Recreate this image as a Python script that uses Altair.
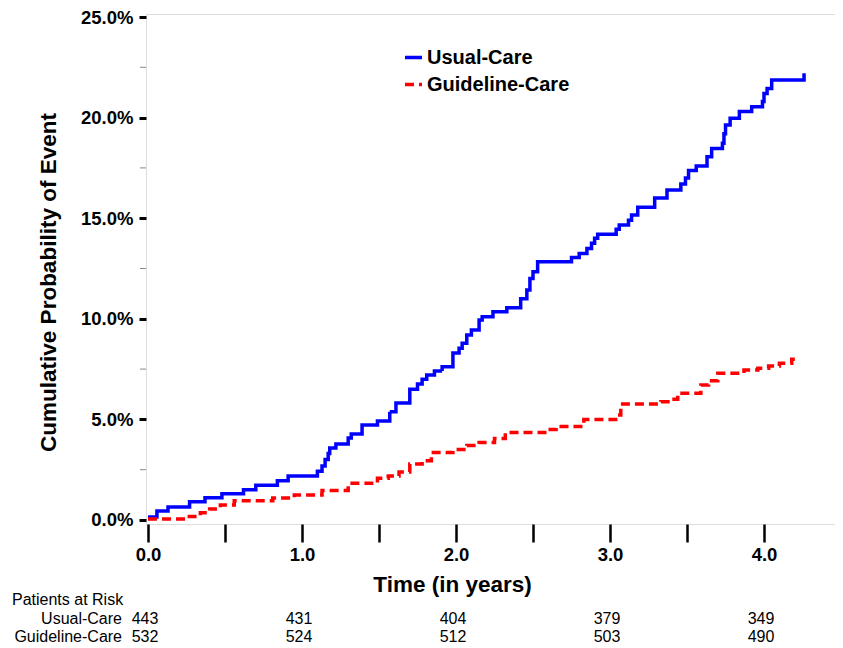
import altair as alt
import pandas as pd

# ---- data ----
blue_t = [0, 0.058, 0.13, 0.27, 0.37, 0.48, 0.62, 0.70, 0.84, 0.91,
          1.10, 1.13, 1.15, 1.17, 1.18, 1.22, 1.30, 1.32, 1.39, 1.49,
          1.57, 1.61, 1.70, 1.75, 1.78, 1.81, 1.86, 1.91, 1.98, 2.02,
          2.04, 2.07, 2.10, 2.15, 2.17, 2.24, 2.33, 2.42, 2.46, 2.48,
          2.50, 2.53, 2.75, 2.80, 2.85, 2.88, 2.90, 2.92, 3.04, 3.06,
          3.12, 3.14, 3.18, 3.29, 3.37, 3.46, 3.49, 3.51, 3.56, 3.63,
          3.66, 3.73, 3.74, 3.75, 3.78, 3.84, 3.92, 3.99, 4.00, 4.02,
          4.05, 4.26]
blue_p = [0.15, 0.45, 0.65, 0.9, 1.1, 1.3, 1.5, 1.72, 1.95, 2.19,
          2.42, 2.68, 3.0, 3.3, 3.58, 3.78, 4.08, 4.27, 4.72, 4.92,
          5.38, 5.82, 6.5, 6.76, 7.0, 7.2, 7.4, 7.62, 8.3, 8.53,
          8.78, 9.19, 9.44, 9.94, 10.1, 10.35, 10.55, 11.0, 11.43, 12.0,
          12.34, 12.84, 13.05, 13.25, 13.5, 13.75, 14.0, 14.2, 14.45, 14.66,
          14.9, 15.16, 15.55, 16.0, 16.4, 16.7, 17.0, 17.37, 17.6, 18.06,
          18.47, 18.73, 19.2, 19.63, 19.97, 20.3, 20.54, 20.8, 21.2, 21.45,
          21.87, 22.2]

red_t = [0, 0.25, 0.34, 0.40, 0.47, 0.56, 0.81, 0.95, 1.13, 1.30,
         1.49, 1.56, 1.63, 1.70, 1.78, 1.84, 1.98, 2.07, 2.15, 2.25,
         2.32, 2.59, 2.65, 2.83, 3.05, 3.07, 3.33, 3.40, 3.44, 3.59,
         3.64, 3.70, 3.87, 3.96, 4.03, 4.10, 4.18, 4.20]
red_p = [0.05, 0.17, 0.36, 0.55, 0.75, 0.96, 1.09, 1.24, 1.46, 1.82,
         2.07, 2.19, 2.39, 2.78, 2.95, 3.35, 3.5, 3.7, 3.85, 4.05,
         4.35, 4.5, 4.65, 5.0, 5.22, 5.77, 5.88, 6.0, 6.3, 6.71,
         6.92, 7.29, 7.45, 7.54, 7.65, 7.79, 7.99, 7.99]

groups = ["Usual-Care", "Guideline-Care"]
colors = ["#0000FF", "#FF0000"]

y_major = [0, 5, 10, 15, 20, 25]
y_minor = [2.5, 7.5, 12.5, 17.5, 22.5]
x_ticks = [0, 0.5, 1, 1.5, 2, 2.5, 3, 3.5, 4, 4.5]

risk_times = [0, 1, 2, 3, 4]
risk_usual = [443, 431, 404, 379, 349]
risk_guide = [532, 524, 512, 503, 490]

FONT = "Liberation Sans, Arial, sans-serif"
NARROW = "Liberation Sans Narrow, Arial Narrow, Liberation Sans, Arial, sans-serif"

# ---- tables ----
curves = pd.concat([
    pd.DataFrame({"t": blue_t, "p": blue_p, "group": groups[0]}),
    pd.DataFrame({"t": red_t, "p": red_p, "group": groups[1]}),
])
minor_df = pd.DataFrame({"v": y_minor})
risk_df = pd.concat([
    pd.DataFrame({"t": risk_times, "n": risk_usual, "row": 0}),
    pd.DataFrame({"t": risk_times, "n": risk_guide, "row": 1}),
])
row_labels = pd.DataFrame({"label": groups, "row": [0, 1]})

xscale = alt.Scale(domain=[-0.013, 4.461], nice=False, zero=False)
yscale = alt.Scale(domain=[-0.2, 25.15], nice=False, zero=False)

leg = alt.Legend(orient="none", legendX=257, legendY=33,
                 symbolType="stroke", symbolStrokeWidth=3.5,
                 symbolSize=289, labelFont=FONT, labelFontSize=20,
                 labelFontWeight="bold", labelColor="black",
                 rowPadding=6, labelOffset=3)

lines = alt.Chart(curves).mark_line(interpolate="step-after", strokeWidth=3.5).encode(
    x=alt.X("t:Q", scale=xscale,
            axis=alt.Axis(values=x_ticks, title="Time (in years)",
                          labelExpr="datum.value % 1 == 0 ? format(datum.value, '.1f') : ''",
                          tickSize=18, tickWidth=2.5, tickColor="black", domain=False,
                          grid=False, labelPadding=3, labelFont=FONT, labelFontSize=18.5,
                          labelFontWeight="bold", labelColor="black",
                          titleFont=FONT, titleFontSize=22.5, titleFontWeight="bold",
                          titleColor="black", titleX=306, titleY=49, titleBaseline="top",
                          labelFlush=False, labelOverlap=False)),
    y=alt.Y("p:Q", scale=yscale,
            axis=alt.Axis(values=y_major, title="Cumulative Probability of Event",
                          labelExpr="format(datum.value, '.1f') + '%'",
                          tickSize=7, tickWidth=3, tickColor="black", domain=False,
                          grid=False, labelPadding=6, labelFont=FONT, labelFontSize=18.5,
                          labelFontWeight="bold", labelColor="black",
                          titleFont=FONT, titleFontSize=22.5, titleFontWeight="bold",
                          titleColor="black", titleAngle=270, titleX=-98, titleY=268,
                          titleBaseline="middle", titleAlign="center",
                          labelFlush=False, labelOverlap=False)),
    color=alt.Color("group:N", scale=alt.Scale(domain=groups, range=colors), title=None,
                    legend=leg),
    strokeDash=alt.StrokeDash("group:N", scale=alt.Scale(domain=groups, range=[[1, 0], [9, 5]]),
                              title=None, legend=leg),
)

minor = alt.Chart(minor_df).mark_rule(color="#888888", strokeWidth=1).encode(
    y=alt.Y("v:Q", scale=yscale, axis=None),
    x=alt.value(-6),
    x2=alt.value(0),
)

rowscale = alt.Scale(domain=[0, 1], range=[605, 623])

risk_nums = alt.Chart(risk_df).mark_text(font=NARROW, fontSize=16, color="black",
                                         align="center", baseline="middle", dx=-3).encode(
    x=alt.X("t:Q", scale=xscale),
    y=alt.Y("row:Q", scale=rowscale, axis=None),
    text="n:Q",
)

risk_rows = alt.Chart(row_labels).mark_text(font=NARROW, fontSize=16, color="black",
                                           align="right", baseline="middle").encode(
    x=alt.value(-24),
    y=alt.Y("row:Q", scale=rowscale, axis=None),
    text="label:N",
)

risk_title = alt.Chart(pd.DataFrame({"label": ["Patients at Risk"]})).mark_text(
    font=NARROW, fontSize=16, color="black", align="left", baseline="middle").encode(
    x=alt.value(-134),
    y=alt.value(586),
    text="label:N",
)

chart = alt.layer(lines, minor, risk_nums, risk_rows, risk_title).resolve_scale(
    y="independent"
).properties(
    width=689, height=510,
    autosize=alt.AutoSizeParams(type="none"),
    padding={"left": 138, "top": 6, "right": 0, "bottom": 124},
).configure_view(stroke="#808080", strokeWidth=1.5).configure(background="white")

chart.save("out.html", embed_options={"renderer": "svg", "actions": False})
